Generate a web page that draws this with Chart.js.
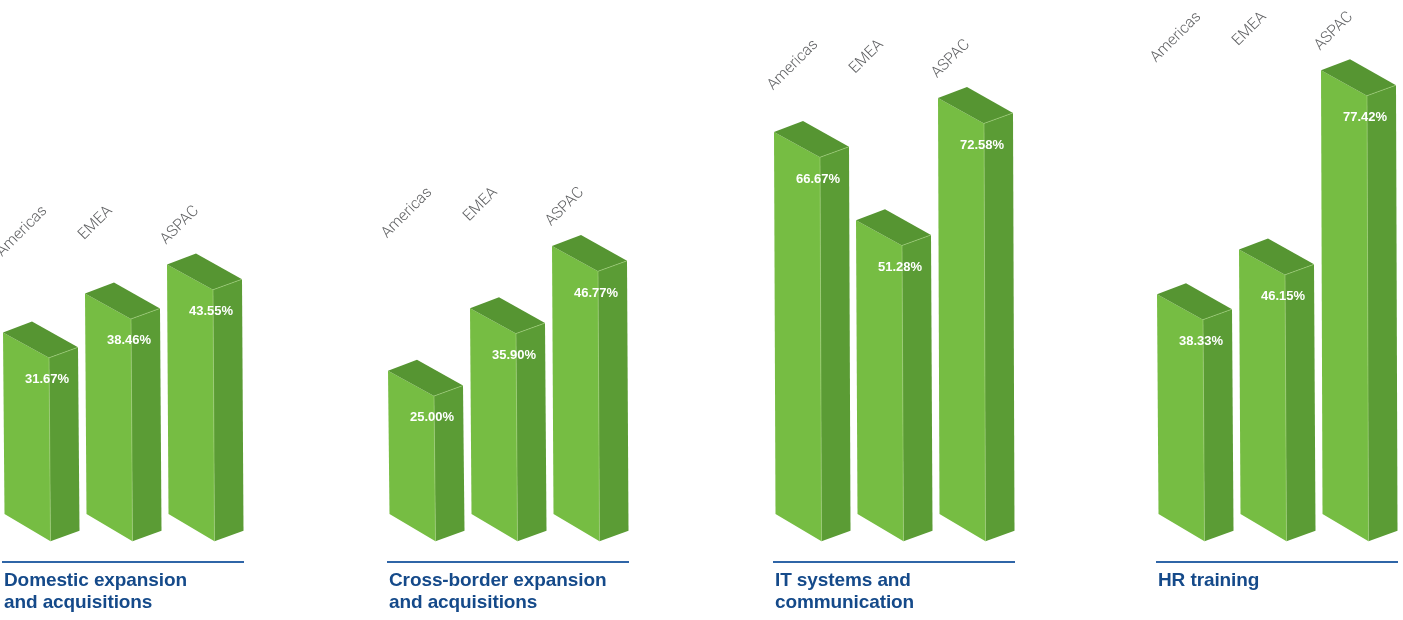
<!DOCTYPE html>
<html>
<head>
<meta charset="utf-8">
<title>Investment priorities by region</title>
<script src="https://cdn.jsdelivr.net/npm/chart.js@4.4.1/dist/chart.umd.min.js"></script>
<style>
  html, body { margin: 0; padding: 0; background: #fff; }
  body { width: 1403px; height: 620px; position: relative; overflow: hidden; }
  .panel canvas { position: absolute; top: 0; }
  .rule { position: absolute; top: 561px; height: 2px; width: 242px; background: #2f65a7; }
  .title {
    position: absolute; top: 569px;
    font-family: "Liberation Sans", Arial, sans-serif; font-weight: bold;
    font-size: 19px; line-height: 22px; color: #154a8a; letter-spacing: -0.1px;
    white-space: nowrap;
  }
</style>
</head>
<body>
<div id="root"></div>
<script>
// Regions shown in every panel
const regions = ['Americas', 'EMEA', 'ASPAC'];

// Share of respondents per region (%)
const domesticExpansion = [31.67, 38.46, 43.55];
const crossBorderExpansion = [25.00, 35.90, 46.77];
const itSystems = [66.67, 51.28, 72.58];
const hrTraining = [38.33, 46.15, 77.42];

// Panel titles (one entry per line)
const titleDomestic = ['Domestic expansion', 'and acquisitions'];
const titleCrossBorder = ['Cross-border expansion', 'and acquisitions'];
const titleIt = ['IT systems and', 'communication'];
const titleHr = ['HR training'];

const panels = [
  { values: domesticExpansion, title: titleDomestic, left: 3 },
  { values: crossBorderExpansion, title: titleCrossBorder, left: 388 },
  { values: itSystems, title: titleIt, left: 774 },
  { values: hrTraining, title: titleHr, left: 1157 }
];

const FRONT = '#76bd43';
const SIDE = '#5b9c35';
const TOP = '#569532';

// Draws every bar as an extruded box and writes the value and region labels
const box3d = {
  id: 'box3d',
  afterDatasetsDraw(chart) {
    const ctx = chart.ctx;
    const meta = chart.getDatasetMeta(0);
    const yScale = chart.scales.y;
    const values = chart.data.datasets[0].data;
    const depthX = 29, depthY = 10.5;
    const maxTop = yScale.getPixelForValue(Math.max(...values));

    meta.data.forEach((bar, i) => {
      const L = bar.x - bar.width / 2;
      const R = bar.x + bar.width / 2;
      const top = bar.y;
      const base = bar.base;
      const dropT = bar.width * 0.55;
      const dropB = bar.width * 0.59;
      const sh = 1.5;

      ctx.save();
      // front face
      ctx.fillStyle = FRONT;
      ctx.beginPath();
      ctx.moveTo(L, top);
      ctx.lineTo(R, top + dropT);
      ctx.lineTo(R + sh, base + dropB);
      ctx.lineTo(L + sh, base);
      ctx.closePath();
      ctx.fill();
      // side face
      ctx.fillStyle = SIDE;
      ctx.beginPath();
      ctx.moveTo(R, top + dropT);
      ctx.lineTo(R + depthX, top + dropT - depthY);
      ctx.lineTo(R + depthX + sh, base + dropB - depthY);
      ctx.lineTo(R + sh, base + dropB);
      ctx.closePath();
      ctx.fill();
      // top face
      ctx.fillStyle = TOP;
      ctx.beginPath();
      ctx.moveTo(L, top);
      ctx.lineTo(L + depthX, top - depthY - 0.5);
      ctx.lineTo(R + depthX, top + dropT - depthY);
      ctx.lineTo(R, top + dropT);
      ctx.closePath();
      ctx.fill();
      // soft highlight on the front/side edge
      ctx.strokeStyle = 'rgba(170,215,130,0.55)';
      ctx.lineWidth = 1;
      ctx.beginPath();
      ctx.moveTo(R, top + dropT);
      ctx.lineTo(R + sh, base + dropB);
      ctx.moveTo(R, top + dropT);
      ctx.lineTo(R + depthX, top + dropT - depthY);
      ctx.stroke();

      // value label
      ctx.fillStyle = '#ffffff';
      ctx.font = 'bold 13px "Liberation Sans", Arial, sans-serif';
      ctx.textAlign = 'center';
      ctx.textBaseline = 'middle';
      ctx.fillText(values[i].toFixed(2) + '%', L + 44, top + 47);

      // region label, rotated, ends aligned along a common line above the tallest bar
      ctx.font = '300 15.5px Roboto, "Liberation Sans", sans-serif';
      ctx.fillStyle = '#616264';
      const label = chart.data.labels[i];
      const w = ctx.measureText(label).width;
      const endY = maxTop - 53;
      const a = Math.PI / 4;
      const px = L - 1;
      const py = endY + w * Math.sin(a);
      ctx.translate(px, py);
      ctx.rotate(-a);
      ctx.textAlign = 'left';
      ctx.textBaseline = 'alphabetic';
      ctx.fillText(label, 0, 0);
      ctx.restore();
    });
  }
};

const root = document.getElementById('root');
const PAD_L = 30, PAD_R = 60, CAT_W = 82, BAR_W = 46;

panels.forEach((p) => {
  const wrap = document.createElement('div');
  wrap.className = 'panel';
  const canvas = document.createElement('canvas');
  const cw = PAD_L + CAT_W * regions.length + PAD_R;
  canvas.width = cw;
  canvas.height = 620;
  canvas.style.width = cw + 'px';
  canvas.style.height = '620px';
  canvas.style.left = (p.left - (CAT_W - BAR_W) / 2 - PAD_L) + 'px';
  wrap.appendChild(canvas);
  root.appendChild(wrap);

  const rule = document.createElement('div');
  rule.className = 'rule';
  rule.style.left = (p.left - 1) + 'px';
  root.appendChild(rule);

  const title = document.createElement('div');
  title.className = 'title';
  title.style.left = (p.left + 1) + 'px';
  title.innerHTML = p.title.join('<br>');
  root.appendChild(title);

  new Chart(canvas, {
    type: 'bar',
    data: {
      labels: regions,
      datasets: [{
        data: p.values,
        backgroundColor: 'rgba(0,0,0,0)',
        borderWidth: 0,
        categoryPercentage: 1,
        barPercentage: BAR_W / CAT_W
      }]
    },
    options: {
      responsive: false,
      animation: false,
      events: [],
      layout: { padding: { left: PAD_L, right: PAD_R, top: 0, bottom: 106 } },
      scales: {
        x: { display: false },
        y: { display: false, min: 0, max: 89.7 }
      },
      plugins: { legend: { display: false }, tooltip: { enabled: false } }
    },
    plugins: [box3d]
  });
});
</script>
</body>
</html>
